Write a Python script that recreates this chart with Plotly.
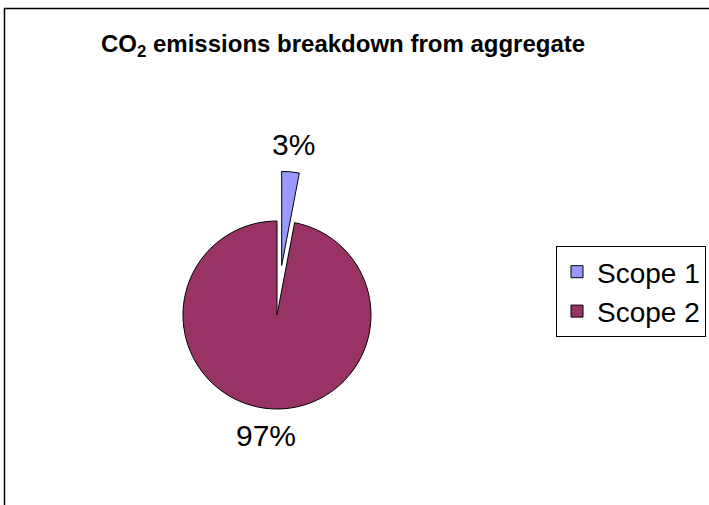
import math
import plotly.graph_objects as go

labels = ["Scope 1", "Scope 2"]
values = [3, 97]
colors = ["#9999FF", "#993366"]
pulls = [0.53, 0]
title_text = "CO<sub>2</sub> emissions breakdown from aggregate"

W, H = 709, 505
FONT = "Liberation Sans, Arial, sans-serif"

# pie geometry in pixels: center and radius
cx, cy, r = 277, 315, 94
half = r * (1 + max(pulls))

fig = go.Figure(go.Pie(
    labels=labels,
    values=values,
    marker=dict(colors=colors, line=dict(color="#000000", width=1)),
    pull=pulls,
    sort=False,
    direction="clockwise",
    rotation=0,
    textinfo="none",
    domain=dict(x=[(cx - half) / W, (cx + half) / W],
                y=[1 - (cy + half) / H, 1 - (cy - half) / H]),
    hoverinfo="label+percent",
))

# percentage labels placed outside each slice, derived from the values
total = sum(values)
annotations = []
cum = 0.0
label_gap = 27
for v, p in zip(values, pulls):
    theta = 2 * math.pi * (cum + v / 2) / total
    cum += v
    dist = r * (1 + p) + label_gap
    lx = cx + dist * math.sin(theta)
    ly = cy - dist * math.cos(theta)
    annotations.append(dict(
        text=f"{round(100 * v / total)}%",
        x=lx / W, y=1 - ly / H, xref="paper", yref="paper",
        xanchor="center", yanchor="middle", showarrow=False,
        font=dict(family=FONT, size=30, color="#000000"),
    ))

annotations.append(dict(
    text="<b>" + title_text + "</b>",
    x=343 / W, y=1 - 46 / H, xref="paper", yref="paper",
    xanchor="center", yanchor="middle", showarrow=False,
    font=dict(family=FONT, size=24, color="#000000"),
))

fig.update_layout(
    width=W,
    height=H,
    autosize=False,
    margin=dict(l=0, r=0, t=0, b=0, pad=0, autoexpand=False),
    paper_bgcolor="#FFFFFF",
    plot_bgcolor="#FFFFFF",
    font=dict(family=FONT, color="#000000", size=14),
    showlegend=True,
    legend=dict(
        x=556 / W, y=1 - 246 / H, xanchor="left", yanchor="top",
        bordercolor="#000000", borderwidth=1,
        font=dict(family=FONT, size=28, color="#000000"),
        bgcolor="#FFFFFF",
    ),
    annotations=annotations,
    shapes=[
        dict(type="rect", xref="paper", yref="paper",
             x0=4.5 / W, x1=1.02, y0=-0.02, y1=1 - 8.5 / H,
             line=dict(color="#000000", width=1.5),
             fillcolor="rgba(0,0,0,0)", layer="below"),
    ],
)

fig.write_html("out.html", config={"responsive": False})
